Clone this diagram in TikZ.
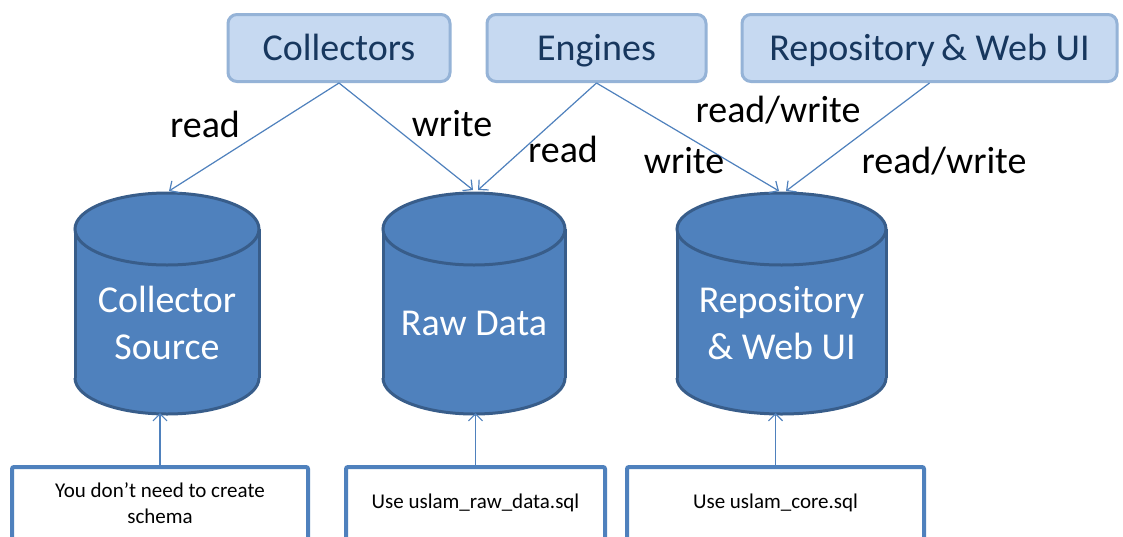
\documentclass[tikz,border=0pt]{standalone}
\usepackage{fontspec}
\setmainfont{Carlito}
\usetikzlibrary{arrows.meta}
\definecolor{topfill}{HTML}{C6D9F1}
\definecolor{topline}{HTML}{95B3D7}
\definecolor{toptext}{HTML}{17375E}
\definecolor{cylblue}{HTML}{4F81BD}
\definecolor{cyldark}{HTML}{385D8A}
\definecolor{connblue}{HTML}{4F81BD}
\tikzset{
  topbox/.style={draw=topline, fill=topfill, line width=3pt, rounded corners=9pt,
    minimum height=67pt, text height=30pt, text depth=6pt, text=toptext,
    font=\fontsize{38}{46}\selectfont, inner sep=0pt},
  cylfill/.style={fill=cylblue},
  cylline/.style={draw=cyldark, line width=3pt},
  cyltext/.style={text=white, align=center, font=\fontsize{38}{47}\selectfont, inner sep=0pt},
  notebox/.style={draw=cylblue, fill=white, line width=4pt, rounded corners=2pt,
    minimum height=78pt, align=center, font=\fontsize{21}{26}\selectfont, inner sep=0pt},
  conn/.style={draw=connblue, line width=1.2pt, -{Straight Barb[length=7pt,width=14pt,line width=1.2pt]}},
  lbl/.style={font=\fontsize{38}{46}\selectfont, inner sep=0pt},
  notetext/.style={font=\fontsize{21}{26}\selectfont, align=center, inner sep=0pt}
}
\newcommand\dbcyl[4]{%
  \fill[cylfill] (#2,378) ellipse [x radius=#3, y radius=36];
  \fill[cylfill] (#2-#3,229) rectangle (#2+#3,378);
  \begin{scope}
    \clip (#2-#3-5,378) rectangle (#2+#3+5,430);
    \draw[cylline] (#2,378) ellipse [x radius=#3, y radius=36];
  \end{scope}
  \draw[cylline] (#2-#3,229) -- (#2-#3,378) (#2+#3,229) -- (#2+#3,378);
  \draw[cylline, cylfill] (#2,229) ellipse [x radius=#3, y radius=36];
  \node[cyltext] (#1) at (#2,323) {#4};
  \coordinate (#1-bot) at (#2,413);
}
\begin{document}
\begin{tikzpicture}[x=1pt, y=-1pt]
\clip (0,0) rectangle (1123,536);
\fill[white] (0,0) rectangle (1123,536);

% top boxes
\node[topbox, minimum width=222pt] (col) at (339,48) {Collectors};
\node[topbox, minimum width=219pt] (eng) at (596.5,48) {Engines};
\node[topbox, minimum width=375pt] (rep) at (929.5,48) {Repository\,\&\ Web UI};

% cylinders
\dbcyl{cs}{167}{92}{Collector\\Source}
\dbcyl{rd}{474}{91}{Raw Data}
\dbcyl{rw}{781.5}{104.5}{Repository\\\&\ Web UI}

% arrow tips on cylinder tops
\coordinate (cs-in) at (169,191);
\coordinate (rd-in1) at (473,190);
\coordinate (rd-in2) at (478,190);
\coordinate (rw-in1) at (779,191);
\coordinate (rw-in2) at (786,191);

% connectors
\draw[conn] (col.south) -- (cs-in);
\draw[conn] (col.south) -- (rd-in1);
\draw[conn] (eng.south) -- (rd-in2);
\draw[conn] (eng.south) -- (rw-in1);
\draw[conn] (rep.south) -- (rw-in2);

% labels
\node[lbl] (l1) at (205,124) {read};
\node[lbl] (l2) at (452,124) {write};
\node[lbl] (l3) at (563,149) {read};
\node[lbl] (l4) at (684,161) {write};
\node[lbl] (l5) at (778,110) {read/write};
\node[lbl] (l6) at (944,161) {read/write};

% bottom note boxes
\node[notebox, minimum width=296pt, anchor=north] (n1) at (160,465) {};
\node[notetext] (t1) at (160,503) {You don’t need to create\\schema};
\node[notebox, minimum width=259pt, anchor=north] (n2) at (475.5,465) {};
\node[notetext] (t2) at (475.5,503) {Use uslam\_raw\_data.sql};
\node[notebox, minimum width=297pt, anchor=north] (n3) at (775.5,465) {};
\node[notetext] (t3) at (775.5,503) {Use uslam\_core.sql};

\draw[conn] (n1.north) -- (n1.north |- cs-bot);
\draw[conn] (n2.north) -- (n2.north |- rd-bot);
\draw[conn] (n3.north) -- (n3.north |- rw-bot);
\end{tikzpicture}
\end{document}
